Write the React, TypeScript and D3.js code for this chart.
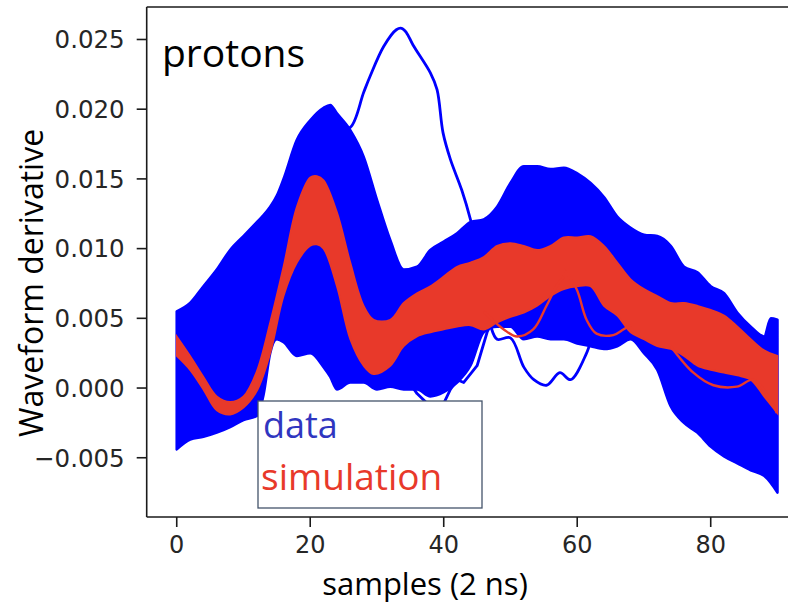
import React from "react";
import * as d3 from "d3";

// ---- data ----
const samples = [0, 2, 4, 6, 8, 10, 12, 13, 14, 15, 16, 18, 20, 22, 23, 24, 26, 28, 30, 32, 34, 36, 38, 40, 42, 44, 46, 48, 50, 52, 54, 56, 58, 60, 62, 64, 66, 68, 70, 72, 74, 76, 78, 80, 82, 84, 86, 88, 89, 90];
const dataUpper = [0.0055, 0.0061, 0.0073, 0.0085, 0.0099, 0.0109, 0.0119, 0.0124, 0.0130, 0.0138, 0.0150, 0.0178, 0.0192, 0.0201, 0.0203, 0.0197, 0.0185, 0.0166, 0.0135, 0.0106, 0.0085, 0.0087, 0.0099, 0.0105, 0.0111, 0.0119, 0.0121, 0.0130, 0.0147, 0.0159, 0.0159, 0.0157, 0.0158, 0.0154, 0.0147, 0.0137, 0.0123, 0.0115, 0.0110, 0.0109, 0.0102, 0.0087, 0.0083, 0.0073, 0.0068, 0.0054, 0.0044, 0.0037, 0.0050, 0.0049];
const dataLower = [-0.0044, -0.0037, -0.0035, -0.0032, -0.0028, -0.0023, -0.0020, -0.0005, 0.0025, 0.0035, 0.0033, 0.0023, 0.0025, 0.0015, 0.0008, -0.0001, 0.0004, 0.0004, -0.0001, 0.0001, -0.0001, -0.0001, -0.0006, -0.0003, 0.0004, 0.0016, 0.0040, 0.0044, 0.0044, 0.0035, 0.0037, 0.0035, 0.0035, 0.0032, 0.0030, 0.0028, 0.0030, 0.0035, 0.0025, 0.0013, -0.0013, -0.0025, -0.0032, -0.0042, -0.0049, -0.0054, -0.0059, -0.0063, -0.0068, -0.0075];

const simSamples = [0, 2, 4, 6, 8, 10, 12, 14, 16, 18, 20, 21, 22, 24, 26, 28, 29.5, 32, 34, 36, 38, 40, 42, 44, 46, 48, 50, 52, 54, 56, 58, 60, 62, 64, 66, 68, 70, 72, 74, 76, 78, 80, 82, 84, 86, 88, 90];
const simUpper = [0.0037, 0.0023, 0.0008, -0.0006, -0.0010, -0.0006, 0.0012, 0.0047, 0.0087, 0.0130, 0.0151, 0.0152, 0.0149, 0.0126, 0.0090, 0.0059, 0.0049, 0.0049, 0.0061, 0.0068, 0.0073, 0.0080, 0.0087, 0.0090, 0.0094, 0.0102, 0.0104, 0.0102, 0.0099, 0.0102, 0.0108, 0.0108, 0.0109, 0.0102, 0.0090, 0.0078, 0.0071, 0.0066, 0.0061, 0.0061, 0.0059, 0.0056, 0.0052, 0.0044, 0.0035, 0.0027, 0.0023];
const simLower = [0.0023, 0.0013, -0.0001, -0.0016, -0.0019, -0.0014, -0.0002, 0.0025, 0.0066, 0.0090, 0.0102, 0.0103, 0.0100, 0.0073, 0.0035, 0.0016, 0.0010, 0.0016, 0.0030, 0.0037, 0.0040, 0.0042, 0.0044, 0.0045, 0.0042, 0.0047, 0.0051, 0.0054, 0.0059, 0.0066, 0.0071, 0.0073, 0.0073, 0.0059, 0.0052, 0.0040, 0.0035, 0.0030, 0.0028, 0.0023, 0.0016, 0.0013, 0.0011, 0.0009, 0.0006, -0.0006, -0.0018];

// individual outlier traces (data)
const outlierPeakS = [22, 24, 26, 28, 29, 31, 32.9, 33.7, 34.4, 35.4, 38, 39, 39.9, 41, 42.7, 44, 45, 46, 47, 48, 50, 52, 53.5, 55.4, 57.4, 59, 61.4, 62.5, 64];
const outlierPeakV = [0.0190, 0.0186, 0.0187, 0.0212, 0.0224, 0.0245, 0.0257, 0.0258, 0.0255, 0.0246, 0.0226, 0.0214, 0.0183, 0.0164, 0.0142, 0.0121, 0.0100, 0.0070, 0.0045, 0.0035, 0.0036, 0.0015, 0.0006, 0.0002, 0.0011, 0.0006, 0.0025, 0.0040, 0.0050];
const outlierDipS = [34, 36, 37.5, 38.5, 40, 41, 42, 43, 45, 46.5, 48];
const outlierDipV = [0.0010, -0.0004, -0.0011, -0.0017, -0.0011, -0.0001, 0.0006, 0.0004, 0.0016, 0.0040, 0.0055];
const simLoop1S = [46, 49, 51, 53.4, 55.4, 56.9, 58];
const simLoop1V = [0.0055, 0.0042, 0.0037, 0.0042, 0.0059, 0.0073, 0.0080];
const simLoop2S = [58, 59.9, 61.4, 62.9, 65.4, 66.9, 68];
const simLoop2V = [0.0085, 0.0071, 0.0049, 0.0039, 0.0038, 0.0042, 0.0045];
const simLoop3S = [74, 77.4, 80.4, 83.9, 86.4, 88.9, 89.9];
const simLoop3V = [0.0030, 0.0011, 0.0002, 0.0001, 0.0006, -0.0008, -0.0018];

const xTicks = [0, 20, 40, 60, 80];
const yTicks = [-0.005, 0.0, 0.005, 0.01, 0.015, 0.02, 0.025];

const BLUE = "#0000ff";
const RED = "#e8392a";

export default function App() {
  const W = 788, H = 603;
  const x = d3.scaleLinear().domain([-4.5, 94.5]).range([146.7, 807.5]);
  const y = d3.scaleLinear().domain([-0.00925, 0.02733]).range([517, 7]);
  const left = x(-4.5), right = x(94.5), top = y(0.02733), bottom = y(-0.00925);

  const band = (s: number[], lo: number[], hi: number[], curve: any) =>
    d3.area<number>().x((_, i) => x(s[i])).y0((_, i) => y(lo[i])).y1((_, i) => y(hi[i])).curve(curve)(s) || "";
  const line = (s: number[], v: number[], curve: any) =>
    d3.line<number>().x((_, i) => x(s[i])).y((_, i) => y(v[i])).curve(curve)(s) || "";

  const fmtY = (v: number) => {
    const t = Math.abs(v).toFixed(3);
    return v < 0 ? "\u2212" + t : t;
  };

  return (
    <svg width={W} height={H} style={{ position: "absolute", left: 0, top: 0, background: "#fff" }}>
      <defs>
        <clipPath id="plot">
          <rect x={left} y={top} width={right - left} height={bottom - top} />
        </clipPath>
      </defs>
      <g clipPath="url(#plot)">
        <path d={band(samples, dataLower, dataUpper, d3.curveMonotoneX)} fill={BLUE} stroke={BLUE} strokeWidth={2.6} strokeLinejoin="round" />
        <path d={line(outlierPeakS, outlierPeakV, d3.curveCatmullRom)} fill="none" stroke={BLUE} strokeWidth={2.8} />
        <path d={line(outlierDipS, outlierDipV, d3.curveLinear)} fill="none" stroke={BLUE} strokeWidth={2.8} strokeLinejoin="round" />
        <path d={band(simSamples, simLower, simUpper, d3.curveCatmullRom)} fill={RED} stroke={RED} strokeWidth={1.8} />
        <path d={line(simLoop1S, simLoop1V, d3.curveCatmullRom)} fill="none" stroke={RED} strokeWidth={2.4} />
        <path d={line(simLoop2S, simLoop2V, d3.curveCatmullRom)} fill="none" stroke={RED} strokeWidth={2.4} />
        <path d={line(simLoop3S, simLoop3V, d3.curveCatmullRom)} fill="none" stroke={RED} strokeWidth={2.4} />
      </g>

      {/* spines */}
      <g stroke="#1a1a1a" strokeWidth={1.6} fill="none">
        <line x1={left} x2={left} y1={top} y2={bottom} />
        <line x1={left} x2={right} y1={top} y2={top} />
        <line x1={left} x2={right} y1={bottom} y2={bottom} />
        <line x1={right} x2={right} y1={top} y2={bottom} />
      </g>

      {/* y ticks */}
      <g fontFamily="DejaVu Sans" fontSize={24.5} fill="#262626">
        {yTicks.map((t) => (
          <g key={t}>
            <line x1={left - 10} x2={left} y1={y(t)} y2={y(t)} stroke="#1a1a1a" strokeWidth={1.6} />
            <text x={left - 22} y={y(t)} dy="0.36em" textAnchor="end">{fmtY(t)}</text>
          </g>
        ))}
      </g>
      {/* x ticks */}
      <g fontFamily="DejaVu Sans" fontSize={24} fill="#262626">
        {xTicks.map((t) => (
          <g key={t}>
            <line x1={x(t)} x2={x(t)} y1={bottom} y2={bottom + 10} stroke="#1a1a1a" strokeWidth={1.6} />
            <text x={x(t)} y={553} textAnchor="middle">{t}</text>
          </g>
        ))}
      </g>

      {/* axis labels */}
      <text x={425} y={595} textAnchor="middle" fontFamily="Open Sans" fontSize={31} fill="#000">samples (2 ns)</text>
      <text transform={`translate(43,${283}) rotate(-90)`} textAnchor="middle" fontFamily="Open Sans" fontSize={32} fill="#000">Waveform derivative</text>

      {/* annotations */}
      <text x={162} y={67} fontFamily="Open Sans" fontSize={39} fill="#000">protons</text>
      <rect x={258} y={401} width={224} height={107} fill="#fff" stroke="#44546a" strokeWidth={1.3} />
      <text x={263} y={438} fontFamily="Open Sans" fontSize={36} fill="#3036c0">data</text>
      <text x={261} y={490} fontFamily="Open Sans" fontSize={37} fill={RED}>simulation</text>
    </svg>
  );
}
